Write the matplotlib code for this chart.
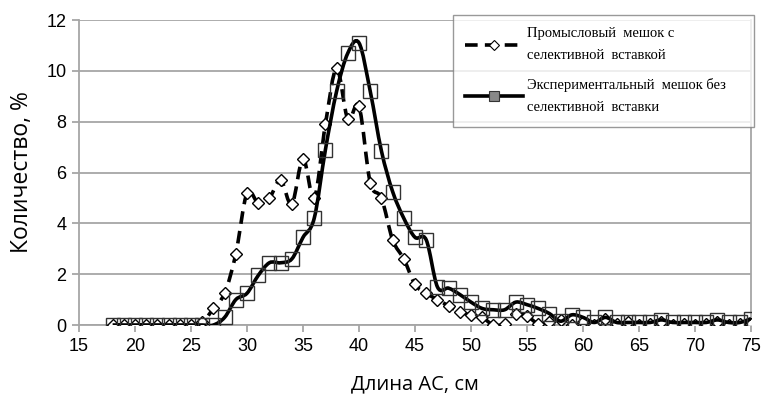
import matplotlib
matplotlib.use('Agg')
import matplotlib.pyplot as plt
from matplotlib.path import Path
from matplotlib.patches import PathPatch
from matplotlib.lines import Line2D

# длина АС, см
lengths = list(range(18, 76))

# промысловый мешок с селективной вставкой
commercial = [0, 0, 0, 0, 0, 0, 0, 0, 0.1,
              0.65, 1.25, 2.8, 5.2, 4.8, 5.0, 5.7, 4.75, 6.55, 5.0,
              7.9, 10.1, 8.1, 8.6, 5.6, 5.0, 3.35, 2.6, 1.6, 1.25,
              1.0, 0.75, 0.5, 0.4, 0.3, 0.0, 0.05, 0.45, 0.35, 0.05,
              0.1, 0.2, 0.0, 0.1, 0.0, 0.25, 0.05, 0.1, 0.0, 0.05,
              0.1, 0.0, 0.05, 0.0, 0.05, 0.1, 0.0, 0.05, 0.05]

# экспериментальный мешок без селективной вставки
experimental = [0, 0, 0, 0, 0, 0, 0, 0, 0,
                0.0, 0.3, 1.0, 1.25, 1.95, 2.45, 2.45, 2.6, 3.45, 4.2,
                6.9, 9.2, 10.7, 11.1, 9.2, 6.85, 5.25, 4.2, 3.45, 3.35,
                1.5, 1.45, 1.2, 0.9, 0.65, 0.6, 0.6, 0.9, 0.8, 0.65,
                0.45, 0.15, 0.4, 0.3, 0.1, 0.3, 0.1, 0.1, 0.1, 0.1,
                0.2, 0.1, 0.1, 0.1, 0.1, 0.2, 0.1, 0.1, 0.25]

label_commercial = 'Промысловый  мешок с\nселективной  вставкой'
label_experimental = 'Экспериментальный  мешок без\nселективной  вставки'


def smooth_path(x, y):
    # сглаженная линия как в Excel (кривые Безье)
    n = len(x)
    verts = [(x[0], y[0])]
    codes = [Path.MOVETO]
    for i in range(n - 1):
        x0, y0 = (x[i - 1], y[i - 1]) if i > 0 else (x[i], y[i])
        x3, y3 = (x[i + 2], y[i + 2]) if i + 2 < n else (x[i + 1], y[i + 1])
        c1 = (x[i] + (x[i + 1] - x0) / 6, y[i] + (y[i + 1] - y0) / 6)
        c2 = (x[i + 1] - (x3 - x[i]) / 6, y[i + 1] - (y3 - y[i]) / 6)
        verts += [c1, c2, (x[i + 1], y[i + 1])]
        codes += [Path.CURVE4] * 3
    return Path(verts, codes)


fig = plt.figure(figsize=(7.62, 4.01), dpi=100)
ax = fig.add_axes([0.1037, 0.1895, 0.8819, 0.7605])

grid_c = '#a6a6a6'

ax.add_patch(PathPatch(smooth_path(lengths, commercial), fill=False,
                       edgecolor='black', lw=2.6, linestyle=(0, (3.5, 2)),
                       capstyle='butt', zorder=3))
ax.plot(lengths, commercial, linestyle='none', marker='D', ms=6.5,
        mfc='white', mec='black', mew=1.0, zorder=4)

ax.add_patch(PathPatch(smooth_path(lengths, experimental), fill=False,
                       edgecolor='black', lw=2.6, zorder=5))
ax.plot(lengths, experimental, linestyle='none', marker='s', ms=10.5,
        mfc='none', mec='#333333', mew=1.0, zorder=6)

ax.set_xlim(15, 75)
ax.set_ylim(0, 12)
ax.set_xticks(range(15, 76, 5))
ax.set_yticks(range(0, 13, 2))
ax.yaxis.grid(True, color=grid_c, lw=1.3)
ax.set_axisbelow(True)
for side in ['left', 'bottom', 'right']:
    ax.spines[side].set_color(grid_c)
    ax.spines[side].set_linewidth(1.3)
ax.spines['top'].set_visible(False)
ax.tick_params(colors=grid_c, length=5, width=1.3, labelcolor='black',
               labelsize=13, pad=4)
for t in ax.get_xticklabels() + ax.get_yticklabels():
    t.set_family('Liberation Sans')

ax.set_xlabel('Длина АС, см', fontsize=14.5, family='Open Sans', labelpad=14)
ax.set_ylabel('Количество, %', fontsize=16.5, family='Open Sans', labelpad=9)

handles = [
    Line2D([], [], color='black', lw=2.6, linestyle=(0, (3.5, 2)), marker='D',
           ms=5, mfc='white', mec='black', mew=0.8),
    Line2D([], [], color='black', lw=2.6, marker='s', ms=7,
           mfc='#888888', mec='#333333', mew=0.8),
]
leg = fig.legend(handles, [label_commercial, label_experimental],
                 loc='upper left', bbox_to_anchor=(0.594, 0.963, 0.396, 0),
                 mode='expand', frameon=True, fancybox=False, shadow=False,
                 prop={'family': 'Liberation Serif', 'size': 10.5},
                 handlelength=4.0, handletextpad=0.25, labelspacing=1.1,
                 borderpad=0.85, borderaxespad=0)
for t in leg.get_texts():
    t.set_linespacing(1.9)
leg.get_frame().set_edgecolor('#808080')
leg.get_frame().set_linewidth(1.0)

fig.savefig('out.png', dpi=100)
